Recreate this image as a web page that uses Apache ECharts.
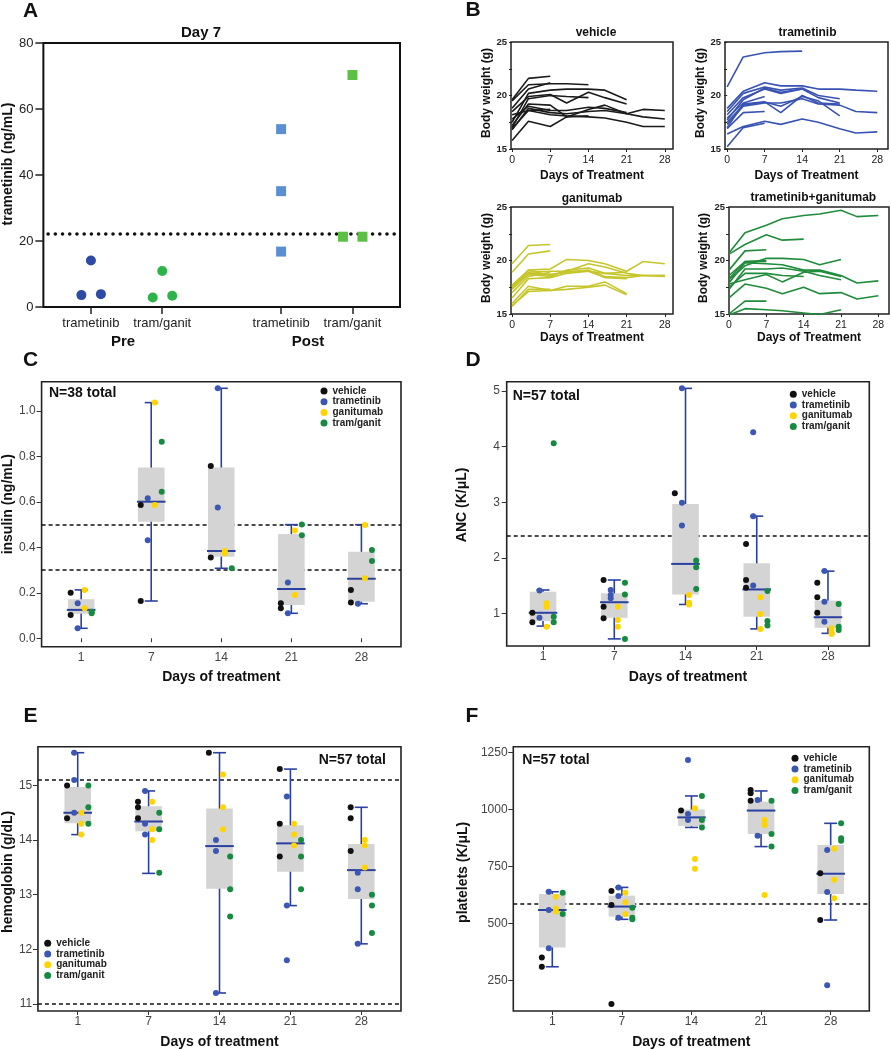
<!DOCTYPE html>
<html><head><meta charset="utf-8">
<script src="https://cdn.jsdelivr.net/npm/echarts@6.0.0/dist/echarts.min.js"></script>
<style>html,body{margin:0;padding:0;background:#fff}#chart{width:891px;height:1050px}</style>
</head><body><div id="chart"></div>
<script>
const FONT = '"Liberation Sans", Arial, sans-serif';

// ---------- Panel A ----------
const aCategories = ['trametinib', 'tram/ganit', 'trametinib', 'tram/ganit'];
const aTickValues = [2, 5, 10, 13];
const aPreTram = [3.6, 14.1, 3.9];
const aPreTG = [2.9, 10.9, 3.4];
const aPostTram = [53.9, 35.1, 16.8];
const aPostTG = [21.3, 70.3, 21.3];
const aThreshold = 22.2;

// ---------- Panel B ----------
const bDays = [0, 3, 7, 10, 14, 17, 21, 24, 28];
const bVehicle = [
  [19.6, 21.6, 21.8],
  [18.8, 20.6, 21.2],
  [19.5, 21.0, 21.1, 21.1, 21.0],
  [17.5, 20.2, 20.5, 20.6, 20.6, 20.5, 19.6],
  [18.5, 19.9, 20.1, 19.3, 20.3, 19.8, 19.2],
  [17.0, 19.7, 20.0, 19.9, 19.8],
  [17.2, 19.2, 19.1, 18.0, 18.7, 19.1, 18.3, 18.7, 18.6],
  [16.8, 18.8, 18.4, 18.3, 18.5, 18.6, 18.3, 18.0, 17.8],
  [16.9, 18.6, 18.2, 18.1, 18.0, 17.9, 17.5, 17.1, 17.1],
  [15.8, 17.6, 17.1, 18.0, 18.1],
  [17.8, 19.0, 18.6, 18.6, 18.9, 18.8, 18.4],
  [18.2, 18.6, 18.7]
];
const bTrametinib = [
  [20.8, 23.6, 24.0, 24.1, 24.15],
  [18.8, 20.4, 21.2, 20.9, 20.9, 20.6, 20.6, 20.5, 20.4],
  [18.5, 20.2, 20.8, 20.5, 20.7, 20.0, 19.7],
  [18.2, 19.8, 20.6, 20.2, 20.6],
  [17.9, 19.3, 19.9],
  [17.5, 19.1, 19.4, 19.0, 19.9, 19.5, 18.1],
  [17.3, 19.0, 19.3, 19.3, 19.7, 19.2, 19.1, 18.5, 18.4],
  [17.0, 19.2, 19.4, 18.4, 20.0, 19.3, 19.2],
  [16.9, 18.4, 18.5],
  [16.4, 17.1, 17.6, 17.3, 17.8, 17.5, 16.9, 16.5, 16.6],
  [15.2, 17.0, 17.4],
  [17.7, 19.6, 20.7, 20.3, 20.6, 19.8, 19.3]
];
const bGanitumab = [
  [19.7, 21.4, 21.5],
  [18.9, 20.6, 20.9],
  [17.7, 19.1, 19.2, 20.1, 20.0, 19.7, 19.0, 19.9, 19.7],
  [17.5, 18.9, 19.0, 19.0, 19.7, 19.4, 18.8, 18.6, 18.6],
  [17.3, 18.7, 18.5, 19.1, 19.3, 18.8, 18.6, 18.6, 18.5],
  [17.6, 18.8, 18.7, 18.9, 19.1, 18.5, 18.4, 18.6, 18.6],
  [17.4, 19.1, 18.6, 19.0, 19.0, 18.8, 18.9],
  [16.5, 18.3, 18.4, 18.8, 19.0, 18.4, 18.3],
  [16.0, 17.6, 17.2, 17.6, 17.6, 18.0, 16.9],
  [15.8, 17.1, 17.2, 17.3, 17.5, 17.7, 16.8],
  [15.7, 17.3, 17.3],
  [17.0, 18.5, 18.9]
];
const bTramGanit = [
  [20.7, 22.6, 23.3, 23.9, 24.2, 24.35, 24.7, 24.1, 24.2],
  [20.6, 21.5, 22.4, 21.9, 22.0],
  [19.1, 20.9, 21.0],
  [18.3, 19.9, 19.9],
  [18.2, 19.5, 20.2, 20.2, 20.1, 19.6, 20.1],
  [17.9, 19.8, 19.7, 19.6, 19.1, 19.1, 18.6, 17.9, 18.1],
  [17.5, 18.8, 18.8, 18.6, 18.5],
  [17.3, 19.2, 19.2, 19.3, 19.0, 18.6, 18.2],
  [17.8, 18.2, 18.7, 18.0, 18.9, 19.0, 18.5],
  [16.5, 17.8, 17.4, 16.9, 17.5, 16.9, 17.0, 16.4, 16.7],
  [15.0, 16.2, 16.2],
  [14.9, 15.5, 15.4, 15.3, 15.1, 14.95, 15.4],
  [18.6, 19.9, 20.0]
];

// ---------- Panels C-F (values per day: 1, 7, 14, 21, 28) ----------
const groups = ['vehicle', 'trametinib', 'ganitumab', 'tram/ganit'];
const dayLabels = ['1', '7', '14', '21', '28'];

const cVehicle = [[0.20, 0.103], [0.587, 0.164], [0.758, 0.355], [0.154, 0.132], [0.213, 0.157]];
const cTrametinib = [[0.154, 0.044], [0.616, 0.431], [1.10, 0.575], [0.245, 0.110], [0.152]];
const cGanitumab = [[0.213, 0.132], [1.037, 0.587], [0.384, 0.374], [0.474, 0.191], [0.499, 0.264]];
const cTramGanit = [[0.117, 0.110], [0.865, 0.645], [0.308], [0.501, 0.453], [0.389, 0.34]];
// q1, median, q3, whisker low, whisker high
const cBoxes = [[0.108, 0.125, 0.172, 0.044, 0.213], [0.513, 0.601, 0.751, 0.164, 1.037], [0.359, 0.384, 0.752, 0.308, 1.10], [0.147, 0.217, 0.459, 0.110, 0.500], [0.161, 0.262, 0.381, 0.152, 0.500]];
const cRefLines = [0.5, 0.3];
const cTicks = [0, 0.2, 0.4, 0.6, 0.8, 1.0];

const dVehicle = [[1.01, 0.84], [1.60, 1.12, 0.91], [3.16], [2.25, 1.60, 1.46], [1.55, 1.29, 1.01]];
const dTrametinib = [[1.41, 0.92], [1.42, 1.33, 1.27], [5.05, 2.99, 2.58], [4.26, 2.75, 1.50], [1.76, 1.21, 0.85]];
const dGanitumab = [[1.18, 1.12, 0.76], [1.12, 0.88, 0.76], [1.33, 1.19, 1.16], [1.29, 0.99, 0.72], [0.73, 0.67, 0.63]];
const dTramGanit = [[4.06, 0.94, 0.84], [1.55, 1.34, 0.54], [1.95, 1.83, 1.44], [1.40, 0.86, 0.78], [1.17, 0.76, 0.70]];
const dBoxes = [[0.86, 1.01, 1.39, 0.77, 1.42], [0.92, 1.20, 1.36, 0.54, 1.60], [1.34, 1.89, 2.97, 1.16, 5.05], [0.94, 1.43, 1.90, 0.72, 2.75], [0.74, 0.93, 1.23, 0.64, 1.76]];
const dRefLines = [2.4];
const dTicks = [1, 2, 3, 4, 5];

const eVehicle = [[15.0, 14.4], [14.7, 14.6, 14.4], [15.6], [15.3, 14.3, 13.7], [14.6, 14.4, 13.8]];
const eTrametinib = [[15.6, 15.1, 14.5], [14.9, 14.3, 14.1], [14.0, 13.8, 11.2], [14.8, 12.8, 11.8], [13.4, 13.1, 12.1]];
const eGanitumab = [[14.5, 14.3, 14.1], [14.7, 14.2, 14.0], [15.2, 14.6, 14.2], [14.3, 14.1, 13.9], [14.0, 13.9, 13.5]];
const eTramGanit = [[15.0, 14.6, 14.3], [14.5, 14.2, 13.4], [13.7, 13.1, 12.6], [14.0, 13.7, 13.1], [13.0, 12.8, 12.3]];
const eBoxes = [[14.31, 14.5, 14.97, 14.1, 15.6], [14.16, 14.34, 14.62, 13.39, 14.9], [13.11, 13.89, 14.58, 11.2, 15.6], [13.42, 13.94, 14.27, 12.8, 15.3], [12.92, 13.45, 13.93, 12.1, 14.6]];
const eRefLines = [15.1, 11.0];
const eTicks = [11, 12, 13, 14, 15];

const fVehicle = [[352, 311], [643, 582, 148], [996], [1086, 1072, 1039], [721, 516]];
const fTrametinib = [[640, 560, 392], [659, 621, 526], [1218, 981, 955], [1042, 886], [823, 639, 230]];
const fGanitumab = [[618, 567, 553], [636, 594, 541], [1006, 784, 741], [955, 933, 626], [829, 693, 611]];
const fTramGanit = [[636, 542], [570, 526, 519], [1060, 955, 922], [1039, 893, 838], [940, 874, 864]];
const fBoxes = [[396, 560, 630, 311, 640], [531, 575, 623, 519, 659], [928, 966, 1001, 922, 1060], [893, 996, 1035, 838, 1082], [630, 719, 845, 516, 940]];
const fRefLines = [589];
const fTicks = [250, 500, 750, 1000, 1250];

// ---------- Styles ----------
const groupColors = ['#111111', '#3c56b3', '#ffd400', '#168a3f'];
const groupOffsets = [-0.15, -0.05, 0.05, 0.15];
const BOX_FILL = '#d4d4d4', BOX_BLUE = '#2a41a0';
const BOX_HALF = 13.3, MED_HALF = 14.3, CAP = 6.5;
const AXIS_COL = '#222';

const grids = [], xAxes = [], yAxes = [], series = [], legends = [];

// Panel A
grids.push({left: 41, top: 43, width: 359, height: 264, show: true, borderColor: '#111', borderWidth: 2});
xAxes.push({type: 'value', gridIndex: 0, min: 0, max: 15,
  axisLine: {show: false}, splitLine: {show: false},
  axisTick: {show: true, customValues: aTickValues, length: 7, lineStyle: {color: AXIS_COL, width: 1.5}},
  axisLabel: {customValues: aTickValues, formatter: v => aCategories[aTickValues.indexOf(v)], color: '#222', fontSize: 13, fontFamily: FONT, margin: 10}});
yAxes.push({type: 'value', gridIndex: 0, min: 0, max: 80, interval: 20,
  axisLine: {show: false}, splitLine: {show: false},
  axisTick: {show: true, length: 8, lineStyle: {color: AXIS_COL, width: 1.5}},
  axisLabel: {color: '#222', fontSize: 13, fontFamily: FONT, margin: 10},
  name: 'trametinib (ng/mL)', nameLocation: 'middle', nameGap: 27,
  nameTextStyle: {fontSize: 14, fontWeight: 'bold', color: '#111', fontFamily: FONT, padding: [0, 0, 0, 22]}});
const aJitter = [-0.4, 0, 0.42];
function aSeries(name, vals, center, symbol, color, jit) {
  return {type: 'scatter', name, xAxisIndex: 0, yAxisIndex: 0, symbol, symbolSize: 10,
    itemStyle: {color, opacity: 1}, z: 3,
    data: vals.map((v, i) => [center + (jit ? aJitter[i] : 0), v])};
}
series.push(aSeries('Pre trametinib', aPreTram, aTickValues[0], 'circle', '#2d4aa5', true));
series.push(aSeries('Pre tram/ganit', aPreTG, aTickValues[1], 'circle', '#2db34a', true));
series.push(aSeries('Post trametinib', aPostTram, aTickValues[2], 'rect', '#5b8fd4', false));
const aPostTGSeries = aSeries('Post tram/ganit', aPostTG, aTickValues[3], 'rect', '#5dbf44', true);
aPostTGSeries.markLine = {silent: true, symbol: 'none', z: 1, label: {show: false},
  lineStyle: {color: '#111', width: 3.6, type: [0.01, 7.2], cap: 'round'},
  data: [[{coord: [0.2, aThreshold]}, {coord: [14.8, aThreshold]}]]};
series.push(aPostTGSeries);

// Panel B
const bPanels = [
  {lines: bVehicle, color: '#1b1b1b', grid: {left: 511, top: 42, width: 162, height: 107}, min: -0.2, max: 29.5, gap: 18, xgap: 21, name: 'vehicle'},
  {lines: bTrametinib, color: '#3953b3', grid: {left: 725, top: 42, width: 163, height: 107}, min: -0.4, max: 30, gap: 17, xgap: 21, name: 'trametinib'},
  {lines: bGanitumab, color: '#c6c62c', grid: {left: 511, top: 207, width: 162, height: 107}, min: -0.2, max: 29.5, gap: 18, xgap: 18, name: 'ganitumab'},
  {lines: bTramGanit, color: '#1f8b3b', grid: {left: 729, top: 207, width: 160, height: 107}, min: 0, max: 30, gap: 19.5, xgap: 18, name: 'trametinib+ganitumab'}
];
bPanels.forEach(p => {
  const gi = grids.length;
  grids.push(Object.assign({show: true, borderColor: AXIS_COL, borderWidth: 1.5}, p.grid));
  xAxes.push({type: 'value', gridIndex: gi, min: p.min, max: p.max,
    axisLine: {show: false}, splitLine: {show: false},
    axisTick: {show: true, customValues: [0, 7, 14, 21, 28], length: 3, lineStyle: {color: AXIS_COL}},
    axisLabel: {customValues: [0, 7, 14, 21, 28], color: '#222', fontSize: 10.5, fontFamily: FONT, margin: 6},
    name: 'Days of Treatment', nameLocation: 'middle', nameGap: p.xgap,
    nameTextStyle: {fontSize: 12, fontWeight: 'bold', color: '#111', fontFamily: FONT}});
  yAxes.push({type: 'value', gridIndex: gi, min: 15, max: 25,
    axisLine: {show: false}, splitLine: {show: false},
    axisTick: {show: true, customValues: [15, 17.5, 20, 22.5, 25], length: 3, lineStyle: {color: AXIS_COL}},
    axisLabel: {customValues: [15, 20, 25], color: '#222', fontSize: 9.5, fontWeight: 'bold', fontFamily: FONT, margin: 4},
    name: 'Body weight (g)', nameLocation: 'middle', nameGap: p.gap,
    nameTextStyle: {fontSize: 12, fontWeight: 'bold', color: '#111', fontFamily: FONT, padding: [0, 0, 0, 5]}});
  p.lines.forEach((w, i) => {
    series.push({type: 'line', name: p.name + ' #' + (i + 1), xAxisIndex: gi, yAxisIndex: gi,
      showSymbol: false, symbol: 'none', clip: true,
      lineStyle: {color: p.color, width: 1.6}, itemStyle: {color: p.color},
      data: w.map((v, k) => [bDays[k], v])});
  });
});

// Panels C-F
const boxPanels = [
  {vals: [cVehicle, cTrametinib, cGanitumab, cTramGanit], boxes: cBoxes, refs: cRefLines, ticks: cTicks, fmt: v => v.toFixed(1),
   grid: {left: 37.7, top: 381.7, width: 363.3, height: 265}, xmin: 0.435, xmax: 5.565, ymin: -0.037, ymax: 1.129,
   yname: 'insulin (ng/mL)', ygap: 23.4, ypad: 20, xgap: 23, lmargin: 6, legend: {left: 320.5, top: 386}},
  {vals: [dVehicle, dTrametinib, dGanitumab, dTramGanit], boxes: dBoxes, refs: dRefLines, ticks: dTicks, fmt: v => String(v),
   grid: {left: 506.7, top: 381.7, width: 362.6, height: 264.3}, xmin: 0.49, xmax: 5.58, ymin: 0.412, ymax: 5.17,
   yname: 'ANC (K/\u03bcL)', ygap: 38, ypad: 18, xgap: 24, lmargin: 6.7, legend: {left: 789.8, top: 389.3}},
  {vals: [eVehicle, eTrametinib, eGanitumab, eTramGanit], boxes: eBoxes, refs: eRefLines, ticks: eTicks, fmt: v => String(v),
   grid: {left: 35.7, top: 746.7, width: 365.3, height: 264.3}, xmin: 0.439, xmax: 5.56, ymin: 10.87, ymax: 15.71,
   yname: 'hemoglobin (g/dL)', ygap: 21.7, ypad: 14, xgap: 23.7, lmargin: 5.7, legend: {left: 44.2, top: 938.3}},
  {vals: [fVehicle, fTrametinib, fGanitumab, fTramGanit], boxes: fBoxes, refs: fRefLines, ticks: fTicks, fmt: v => String(v),
   grid: {left: 513.3, top: 746.7, width: 356, height: 264.3}, xmin: 0.44, xmax: 5.555, ymin: 117, ymax: 1276,
   yname: 'platelets (K/\u03bcL)', ygap: 43, ypad: 13, xgap: 23.7, lmargin: 5.7, legend: {left: 791.5, top: 753.3}}
];
boxPanels.forEach(p => {
  const gi = grids.length;
  grids.push(Object.assign({show: true, borderColor: AXIS_COL, borderWidth: 1.6}, p.grid));
  xAxes.push({type: 'value', gridIndex: gi, min: p.xmin, max: p.xmax,
    axisLine: {show: false}, splitLine: {show: false},
    axisTick: {show: true, customValues: [1, 2, 3, 4, 5], length: 4, lineStyle: {color: '#333'}},
    axisLabel: {customValues: [1, 2, 3, 4, 5], formatter: v => dayLabels[Math.round(v) - 1], color: '#444', fontSize: 12, fontFamily: FONT, margin: 5},
    name: 'Days of treatment', nameLocation: 'middle', nameGap: p.xgap,
    nameTextStyle: {fontSize: 14, fontWeight: 'bold', color: '#111', fontFamily: FONT}});
  yAxes.push({type: 'value', gridIndex: gi, min: p.ymin, max: p.ymax,
    axisLine: {show: false}, splitLine: {show: false},
    axisTick: {show: true, customValues: p.ticks, length: 5, lineStyle: {color: '#333'}},
    axisLabel: {customValues: p.ticks, formatter: p.fmt, color: '#444', fontSize: 12, fontFamily: FONT, margin: p.lmargin},
    name: p.yname, nameLocation: 'middle', nameGap: p.ygap,
    nameTextStyle: {fontSize: 14, fontWeight: 'bold', color: '#111', fontFamily: FONT, padding: [0, 0, 0, p.ypad]}});
  series.push({
    type: 'custom', name: 'box ' + gi, xAxisIndex: gi, yAxisIndex: gi, z: 2,
    data: p.boxes.map((b, i) => [i + 1].concat(b)),
    encode: {x: 0, y: [1, 2, 3, 4, 5]},
    renderItem: (params, api) => {
      const x = api.value(0);
      const pq1 = api.coord([x, api.value(1)]);
      const pmed = api.coord([x, api.value(2)]);
      const pq3 = api.coord([x, api.value(3)]);
      const plo = api.coord([x, api.value(4)]);
      const phi = api.coord([x, api.value(5)]);
      const cx = pq1[0];
      const ws = {stroke: BOX_BLUE, lineWidth: 1.6};
      return {type: 'group', children: [
        {type: 'line', shape: {x1: cx, y1: plo[1], x2: cx, y2: phi[1]}, style: ws},
        {type: 'line', shape: {x1: cx - CAP, y1: plo[1], x2: cx + CAP, y2: plo[1]}, style: ws},
        {type: 'line', shape: {x1: cx - CAP, y1: phi[1], x2: cx + CAP, y2: phi[1]}, style: ws},
        {type: 'rect', shape: {x: cx - BOX_HALF, y: pq3[1], width: 2 * BOX_HALF, height: pq1[1] - pq3[1]}, style: {fill: BOX_FILL}},
        {type: 'line', shape: {x1: cx - MED_HALF, y1: pmed[1], x2: cx + MED_HALF, y2: pmed[1]}, style: {stroke: BOX_BLUE, lineWidth: 2}}
      ]};
    },
    markLine: {silent: true, symbol: 'none', z: 1, label: {show: false},
      lineStyle: {color: '#111', width: 1.5, type: [4, 3]},
      data: p.refs.map(v => ({yAxis: v}))}
  });
  groups.forEach((g, k) => {
    const data = [];
    p.vals[k].forEach((arr, d) => arr.forEach(v => data.push([d + 1 + groupOffsets[k], v])));
    series.push({type: 'scatter', name: g, xAxisIndex: gi, yAxisIndex: gi, z: 3,
      symbol: 'circle', symbolSize: 6, itemStyle: {color: groupColors[k], opacity: 1}, data});
  });
  legends.push({data: groups, left: p.legend.left, top: p.legend.top, orient: 'vertical', icon: 'circle',
    itemWidth: 7, itemHeight: 7, itemGap: 0.7, padding: 0, selectedMode: false,
    textStyle: {fontSize: 10, fontWeight: 'bold', color: '#222', fontFamily: FONT, lineHeight: 10}});
});

// Text annotations
function txt(text, x, y, size, align) {
  return {type: 'text', x, y, silent: true,
    style: {text, fontSize: size, fontWeight: 'bold', fontFamily: FONT, fill: '#111',
      align: align || 'center', verticalAlign: 'middle', textAlign: align || 'center', textVerticalAlign: 'middle'}};
}
const graphics = [
  txt('A', 30.5, 11, 21), txt('B', 473, 10, 21), txt('C', 30.5, 360, 21),
  txt('D', 473, 360, 21), txt('E', 30.5, 716.7, 21), txt('F', 472, 716.7, 21),
  txt('Day 7', 201, 33, 15), txt('Pre', 123, 342, 15), txt('Post', 308, 342, 15),
  txt('vehicle', 596, 33, 12), txt('trametinib', 807.5, 33, 12),
  txt('ganitumab', 592, 198.3, 12), txt('trametinib+ganitumab', 813.3, 198, 12),
  txt('N=38 total', 49, 392.7, 14, 'left'), txt('N=57 total', 512.7, 396, 14, 'left'),
  txt('N=57 total', 386, 760, 14, 'right'), txt('N=57 total', 522.3, 760, 14, 'left')
];

const chart = echarts.init(document.getElementById('chart'), null, {renderer: 'canvas'});
chart.setOption({
  animation: false,
  backgroundColor: '#fff',
  textStyle: {fontFamily: FONT},
  grid: grids, xAxis: xAxes, yAxis: yAxes, legend: legends,
  graphic: {elements: graphics},
  series
});
</script></body></html>
